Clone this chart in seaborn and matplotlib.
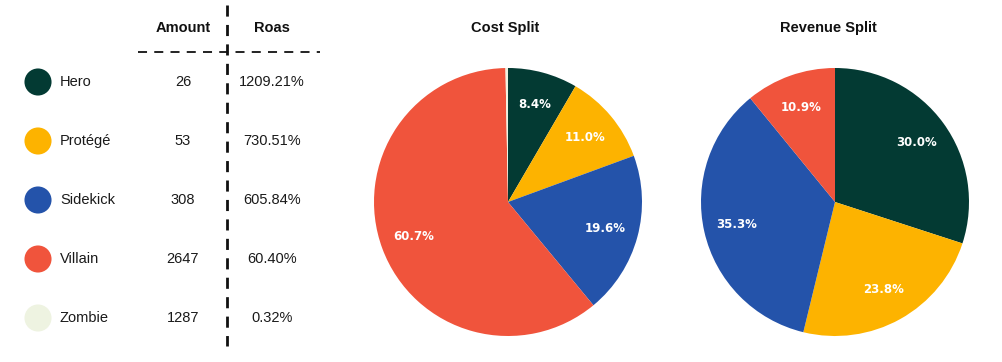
import numpy as np
import pandas as pd
import matplotlib
matplotlib.use("Agg")
import matplotlib.pyplot as plt
import seaborn as sns

# Data
segments = ["Hero", "Protégé", "Sidekick", "Villain", "Zombie"]
amounts = ["26", "53", "308", "2647", "1287"]
roas = ["1209.21%", "730.51%", "605.84%", "60.40%", "0.32%"]
cost_split = [8.4, 11.0, 19.6, 60.7, 0.3]
revenue_split = [30.0, 23.8, 35.3, 10.9, 0.0]
colors = ["#033a33", "#fdb300", "#2453aa", "#f0543c", "#eef3e1"]

sns.set_theme(style="white")
plt.rcParams["font.family"] = ["Liberation Sans", "DejaVu Sans"]

W, H = 1003, 362
fig = plt.figure(figsize=(W / 100, H / 100), dpi=100)

# ---- table on the left (pixel coordinates) ----
ax_t = fig.add_axes([0, 0, 340 / W, 1])
ax_t.set_xlim(0, 340)
ax_t.set_ylim(H, 0)
ax_t.axis("off")

row_y = 82 + 59 * np.arange(len(segments))
df = pd.DataFrame({"x": 38, "y": row_y, "segment": segments})
sns.scatterplot(data=df, x="x", y="y", hue="segment", palette=colors,
                s=380, linewidth=0, legend=False, ax=ax_t)

for y, name, amt, r in zip(row_y, segments, amounts, roas):
    ax_t.text(60, y, name, ha="left", va="center", fontsize=10.5, color="#1a1a1a")
    ax_t.text(183, y, amt, ha="center", va="center", fontsize=10.5, color="#1a1a1a")
    ax_t.text(272, y, r, ha="center", va="center", fontsize=10.5, color="#1a1a1a")

ax_t.text(183, 28, "Amount", ha="center", va="center", fontsize=10.5,
          fontweight="bold", color="#111111")
ax_t.text(272, 28, "Roas", ha="center", va="center", fontsize=10.5,
          fontweight="bold", color="#111111")
ax_t.plot([138, 320], [52, 52], color="#111111", lw=1.3, dashes=(5, 4))
ax_t.plot([227, 227], [5, 346], color="#111111", lw=2, dashes=(4, 3))


def pct_label(p):
    return f"{p:.1f}%" if p >= 1 else ""


def draw_pie(cx, cy, rad, values, title, tx):
    ax = fig.add_axes([(cx - rad) / W, (H - cy - rad) / H, 2 * rad / W, 2 * rad / H])
    ax.pie(values, colors=colors, startangle=90, counterclock=False,
           autopct=pct_label, pctdistance=0.75,
           wedgeprops=dict(linewidth=0),
           textprops=dict(color="white", fontweight="bold", fontsize=8.5,
                          family="DejaVu Sans"))
    ax.set_xlim(-1, 1)
    ax.set_ylim(-1, 1)
    ax.set_aspect("equal")
    fig.text(tx / W, 1 - 28 / H, title, ha="center", va="center",
             fontsize=10.5, fontweight="bold", color="#111111")


draw_pie(508, 202, 134, cost_split, "Cost Split", 505)
draw_pie(835, 202, 134, revenue_split, "Revenue Split", 828)

fig.savefig("out.png", dpi=100)
